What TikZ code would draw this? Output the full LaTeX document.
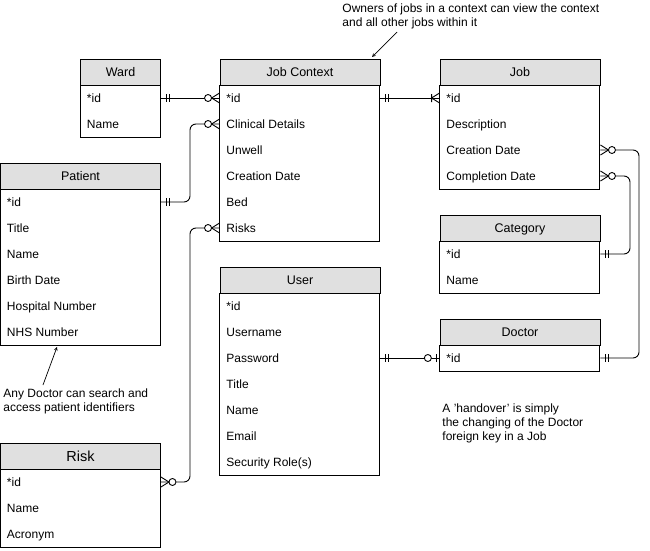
\documentclass[tikz,border=0pt]{standalone}
\usepackage{fontspec}
\setmainfont{Liberation Sans}
\usetikzlibrary{calc}
\tikzset{
	headstyle/.style={rectangle,draw=black,fill=black!12,minimum height=26pt,inner sep=0pt,text height=9pt,text depth=0pt,font=\fontsize{12.5}{15}\selectfont},
	rowstyle/.style={anchor=west,inner sep=0pt,text height=9pt,text depth=0pt,font=\fontsize{12}{15}\selectfont},
	notestyle/.style={anchor=north west,align=left,inner sep=0pt,font=\fontsize{12}{14}\selectfont},
	linkstyle/.style={rounded corners=6pt},
	onlyone/.pic={\draw (5,-4) -- (5,4) (8,-4) -- (8,4);},
	zeromany/.pic={\draw (0,-5) -- (8,0) -- (0,5); \draw[fill=white] (11.5,0) circle (3.5pt);},
	onemany/.pic={\draw (0,-5) -- (8,0) -- (0,5) (8,-4) -- (8,4);},
	zeroone/.pic={\draw (3.5,-4) -- (3.5,4); \draw[fill=white] (11.7,0) circle (3.5pt);}
}
\begin{document}
\begin{tikzpicture}[x=1pt,y=-1pt,line width=0.9pt]
		\useasboundingbox (0,0) rectangle (650,551);
		% Ward
		\node[headstyle,minimum width=80pt] (ward) at (120.5,72) {Ward};
		\draw (ward.south west) rectangle ++(80,52);
		\node[rowstyle] (ward-id) at (86.5,98) {*id};
		\node[rowstyle] (ward-name) at (86.5,124) {Name};
		% Job Context
		\node[headstyle,minimum width=160pt] (jc) at (300,72) {Job Context};
		\draw (jc.south west) rectangle ++(160,156);
		\node[rowstyle] (jc-id) at (226,98) {*id};
		\node[rowstyle] (jc-clin) at (226,124) {Clinical Details};
		\node[rowstyle] (jc-unwell) at (226,150) {Unwell};
		\node[rowstyle] (jc-cdate) at (226,176) {Creation Date};
		\node[rowstyle] (jc-bed) at (226,202) {Bed};
		\node[rowstyle] (jc-risks) at (226,228) {Risks};
		% Job
		\node[headstyle,minimum width=160pt] (job) at (520,72) {Job};
		\draw (job.south west) rectangle ++(160,104);
		\node[rowstyle] (job-id) at (446,98) {*id};
		\node[rowstyle] (job-desc) at (446,124) {Description};
		\node[rowstyle] (job-cdate) at (446,150) {Creation Date};
		\node[rowstyle] (job-fdate) at (446,176) {Completion Date};
		% Patient
		\node[headstyle,minimum width=160pt] (pat) at (80.5,176) {Patient};
		\draw (pat.south west) rectangle ++(160,156);
		\node[rowstyle] (pat-id) at (6.5,202) {*id};
		\node[rowstyle] (pat-title) at (6.5,228) {Title};
		\node[rowstyle] (pat-name) at (6.5,254) {Name};
		\node[rowstyle] (pat-birth) at (6.5,280) {Birth Date};
		\node[rowstyle] (pat-hosp) at (6.5,306) {Hospital Number};
		\node[rowstyle] (pat-nhs) at (6.5,332) {NHS Number};
		% Category
		\node[headstyle,minimum width=160pt] (cat) at (520,228) {Category};
		\draw (cat.south west) rectangle ++(160,52);
		\node[rowstyle] (cat-id) at (446,254) {*id};
		\node[rowstyle] (cat-name) at (446,280) {Name};
		% User
		\node[headstyle,minimum width=160pt] (user) at (300,280) {User};
		\draw (user.south west) rectangle ++(160,182);
		\node[rowstyle] (user-id) at (226,306) {*id};
		\node[rowstyle] (user-uname) at (226,332) {Username};
		\node[rowstyle] (user-pass) at (226,358) {Password};
		\node[rowstyle] (user-title) at (226,384) {Title};
		\node[rowstyle] (user-name) at (226,410) {Name};
		\node[rowstyle] (user-email) at (226,436) {Email};
		\node[rowstyle] (user-role) at (226,462) {Security Role(s)};
		% Doctor
		\node[headstyle,minimum width=160pt] (doc) at (520,332) {Doctor};
		\draw (doc.south west) rectangle ++(160,26);
		\node[rowstyle] (doc-id) at (446,358) {*id};
		% Risk
		\node[headstyle,minimum width=160pt,font=\fontsize{14.5}{17}\selectfont,text height=10.5pt] (risk) at (80.5,456) {Risk};
		\draw (risk.south west) rectangle ++(160,78);
		\node[rowstyle] (risk-id) at (6.5,482) {*id};
		\node[rowstyle] (risk-name) at (6.5,508) {Name};
		\node[rowstyle] (risk-acr) at (6.5,534) {Acronym};
		% links
		\coordinate (leftbus) at (190,0);
		\coordinate (catbus) at (630,0);
		\coordinate (rightbus) at (639,0);
		\draw (ward-id -| ward.east) -- (jc-id -| jc.west);
		\pic at (ward-id -| ward.east) {onlyone};
		\pic[rotate=180] at (jc-id -| jc.west) {zeromany};
		\draw[linkstyle] (pat-id -| pat.east) -- (pat-id -| leftbus) -- (jc-clin -| leftbus) -- (jc-clin -| jc.west);
		\pic at (pat-id -| pat.east) {onlyone};
		\pic[rotate=180] at (jc-clin -| jc.west) {zeromany};
		\draw[linkstyle] (risk-id -| risk.east) -- (risk-id -| leftbus) -- (jc-risks -| leftbus) -- (jc-risks -| jc.west);
		\pic at (risk-id -| risk.east) {zeromany};
		\pic[rotate=180] at (jc-risks -| jc.west) {zeromany};
		\draw (jc-id -| jc.east) -- (job-id -| job.west);
		\pic at (jc-id -| jc.east) {onlyone};
		\pic[rotate=180] at (job-id -| job.west) {onemany};
		\draw[linkstyle] (job-cdate -| job.east) -- (job-cdate -| rightbus) -- (doc-id -| rightbus) -- (doc-id -| doc.east);
		\pic at (job-cdate -| job.east) {zeromany};
		\pic at (doc-id -| doc.east) {onlyone};
		\draw[linkstyle] (job-fdate -| job.east) -- (job-fdate -| catbus) -- (cat-id -| catbus) -- (cat-id -| cat.east);
		\pic at (job-fdate -| job.east) {zeromany};
		\pic at (cat-id -| cat.east) {onlyone};
		\draw (user-pass -| user.east) -- (doc-id -| doc.west);
		\pic at (user-pass -| user.east) {onlyone};
		\pic[rotate=180] at (doc-id -| doc.west) {zeroone};
		% notes
		\node[notestyle] (jcnote) at (342,3) {Owners of jobs in a context can view the context\\and all other jobs within it};
		\node[notestyle] (patnote) at (3,388) {Any Doctor can search and\\access patient identifiers};
		\node[notestyle] (handnote) at (442,403) {A 'handover' is simply\\the changing of the Doctor\\foreign key in a Job};
		\coordinate (jcnote-tail) at (397,32);
		\coordinate (jcnote-tip) at (372,57);
		\coordinate (patnote-tail) at (43,385);
		\coordinate (patnote-tip) at (57,347);
		\draw[-stealth,line width=0.7pt] (jcnote-tail) -- (jcnote-tip);
		\draw[-stealth,line width=0.7pt] (patnote-tail) -- (patnote-tip);
\end{tikzpicture}
\end{document}
